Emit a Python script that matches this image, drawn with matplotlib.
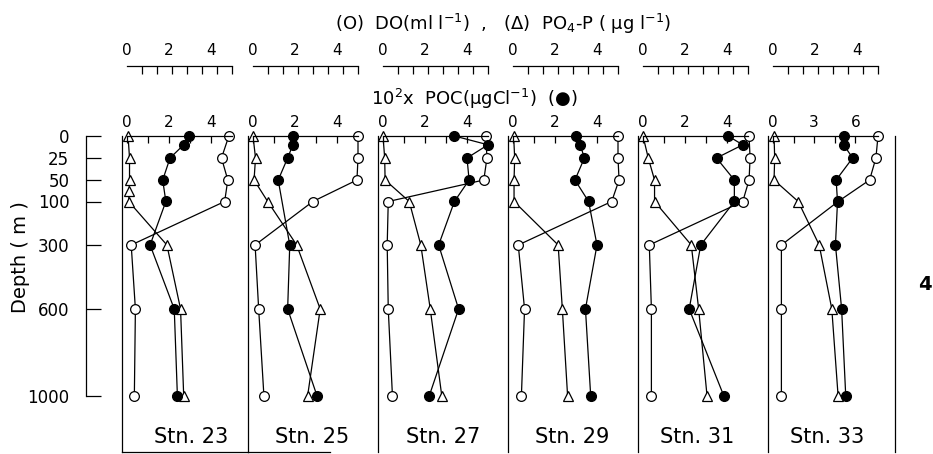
import numpy as np
import matplotlib
matplotlib.use('Agg')
import matplotlib.pyplot as plt
from matplotlib.ticker import FixedLocator, FixedFormatter

plt.rcParams['font.family'] = ['DejaVu Sans']
plt.rcParams['mathtext.default'] = 'regular'

# ---------------- data ----------------
stations = ['Stn. 23', 'Stn. 25', 'Stn. 27', 'Stn. 29', 'Stn. 31', 'Stn. 33']
depth_ticks = [0, 25, 50, 100, 300, 600, 1000]

do_depths = [0, 25, 50, 100, 300, 600, 1000]
po4_depths = [0, 25, 50, 100, 300, 600, 1000]
po4_depths_stn23 = [0, 25, 50, 75, 100, 300, 600, 1000]
poc_depths = [0, 10, 25, 50, 100, 300, 600, 1000]
poc_depths_stn25 = [0, 10, 25, 50, 300, 600, 1000]

do23 = [4.85, 4.5, 4.8, 4.65, 0.2, 0.4, 0.35]
po4_23 = [0.05, 0.12, 0.12, 0.1, 0.08, 1.9, 2.55, 2.7]
poc23 = [2.95, 2.7, 2.05, 1.7, 1.85, 1.1, 2.25, 2.4]

do25 = [5.0, 5.0, 4.95, 2.85, 0.1, 0.27, 0.52]
po4_25 = [0.0, 0.12, 0.05, 0.7, 2.08, 3.2, 2.6]
poc25 = [1.9, 1.9, 1.65, 1.2, 1.75, 1.65, 3.05]

do27 = [4.9, 4.95, 4.8, 0.25, 0.2, 0.25, 0.45]
po4_27 = [0.0, 0.08, 0.1, 1.25, 1.8, 2.25, 2.8]
poc27 = [3.4, 5.0, 4.0, 4.1, 3.4, 2.65, 3.6, 2.2]

do29 = [5.0, 5.0, 5.05, 4.7, 0.25, 0.55, 0.4]
po4_29 = [0.03, 0.08, 0.05, 0.05, 2.15, 2.35, 2.6]
poc29 = [3.0, 3.2, 3.4, 2.95, 3.6, 4.0, 3.45, 3.7]

do31 = [5.05, 5.1, 5.05, 4.75, 0.3, 0.4, 0.4]
po4_31 = [0.0, 0.25, 0.55, 0.55, 2.3, 2.65, 3.05]
poc31 = [4.05, 4.75, 3.5, 4.35, 4.35, 2.75, 2.2, 3.85]

do33 = [5.0, 4.9, 4.6, 3.1, 0.4, 0.4, 0.4]
po4_33 = [0.05, 0.08, 0.05, 1.2, 2.2, 2.8, 3.1]
poc33 = [5.15, 5.15, 5.8, 4.6, 4.7, 4.55, 5.0, 5.3]

do_all = [do23, do25, do27, do29, do31, do33]
po4_all = [po4_23, po4_25, po4_27, po4_29, po4_31, po4_33]
po4_dep_all = [po4_depths_stn23] + [po4_depths] * 5
poc_all = [poc23, poc25, poc27, poc29, poc31, poc33]
poc_dep_all = [poc_depths, poc_depths_stn25] + [poc_depths] * 4

upper_ticks = [0, 2, 4]
poc_ticks_major = [[0, 2, 4]] * 5 + [[0, 3, 6]]
poc_ticks_minor = [[1, 3]] * 5 + [[1.5, 4.5]]
poc_factor = [1, 1, 1, 1, 1, 1.53]

# ---------------- depth scale (piecewise, as drawn) ----------------
_dk = np.array([-100, 0, 25, 50, 100, 300, 600, 1000, 1500], float)
_pk = np.array([-88, 0, 22, 44, 65.5, 109, 173, 260, 368], float)


def fwd(d):
    return np.interp(d, _dk, _pk)


def inv(p):
    return np.interp(p, _pk, _dk)


W, H = 933, 454
fig = plt.figure(figsize=(W / 100, H / 100), dpi=100)


def fx(px):
    return px / W


def fy(py):
    return 1 - py / H


panel_lefts = [122, 248, 378, 508, 638, 768, 895]
label_frac = [0.55, 0.49, 0.5, 0.49, 0.455, 0.465]
top_px, bottom_px = 136, 452
unit_px = 21.0
zero_off = 5.0
y_bottom = inv(bottom_px - top_px)

lw = 0.9
ms_c = 7.0
ms_t = 6.5

for i in range(6):
    left, right = panel_lefts[i], panel_lefts[i + 1]
    w = right - left
    x0 = -zero_off / unit_px
    x1 = x0 + w / unit_px
    ax = fig.add_axes([fx(left), fy(bottom_px), w / W, (bottom_px - top_px) / H])
    ax.set_yscale('function', functions=(fwd, inv))
    ax.set_ylim(y_bottom, 0)
    ax.set_xlim(x0, x1)

    # POC twin axis (top scale of panel)
    f = poc_factor[i]
    axp = ax.twiny()
    axp.set_xlim(x0 * f, x1 * f)
    for s in ['left', 'right', 'bottom']:
        axp.spines[s].set_visible(False)
    axp.spines['top'].set_bounds(0, 5.0 * f)
    axp.spines['top'].set_linewidth(0.9)
    axp.xaxis.set_major_locator(FixedLocator(poc_ticks_major[i]))
    axp.xaxis.set_minor_locator(FixedLocator(poc_ticks_minor[i]))
    axp.tick_params(axis='x', which='both', direction='in', length=5, width=0.9,
                    top=True, labeltop=True, bottom=False, labelbottom=False,
                    labelsize=11, pad=4)
    axp.tick_params(axis='x', which='minor', labeltop=False)
    axp.tick_params(axis='y', left=False, right=False, labelleft=False, labelright=False)

    for s in ['top', 'right', 'bottom']:
        ax.spines[s].set_visible(False)
    if i == 5:
        ax.spines['right'].set_visible(True)
    if i in (0, 1):
        ax.spines['bottom'].set_visible(True)
        if i == 1:
            ax.spines['bottom'].set_bounds(x0, x0 + (330 - left) / unit_px)
    for s in ax.spines.values():
        s.set_linewidth(0.9)
    ax.tick_params(axis='both', which='both', left=False, labelleft=False,
                   bottom=False, labelbottom=False, top=False, labeltop=False,
                   right=False, labelright=False)

    # lines
    ax.plot(do_all[i], do_depths, '-', color='black', lw=lw, marker='o', ms=ms_c,
            mfc='white', mec='black', mew=0.9, zorder=4, clip_on=False)
    ax.plot(po4_all[i], po4_dep_all[i], '-', color='black', lw=lw, marker='^', ms=ms_t,
            mfc='white', mec='black', mew=0.9, zorder=3, clip_on=False)
    axp.plot(poc_all[i], poc_dep_all[i], '-', color='black', lw=lw, marker='o', ms=ms_c,
             mfc='black', mec='black', zorder=2, clip_on=False)

    ax.text(label_frac[i], 0.047, stations[i], transform=ax.transAxes, ha='center',
            va='center', fontsize=15)

    # upper scale (DO / PO4)
    sc = fig.add_axes([fx(left), fy(66) - 0.02, w / W, 0.02])
    sc.set_xlim(x0, x1)
    sc.set_ylim(0, 1)
    sc.patch.set_visible(False)
    for s in ['left', 'right', 'bottom']:
        sc.spines[s].set_visible(False)
    sc.spines['top'].set_bounds(0, 5.0)
    sc.spines['top'].set_linewidth(0.9)
    sc.xaxis.set_major_locator(FixedLocator(upper_ticks))
    sc.xaxis.set_minor_locator(FixedLocator(list(np.linspace(0, 5.0, 8))))
    sc.tick_params(axis='x', which='major', direction='in', length=0, top=True,
                   labeltop=True, bottom=False, labelbottom=False, labelsize=11, pad=6)
    sc.tick_params(axis='x', which='minor', direction='in', length=6, width=0.9,
                   top=True, bottom=False)
    sc.tick_params(left=False, labelleft=False)

# depth axis
dax = fig.add_axes([fx(86), fy(bottom_px), 0.02, (bottom_px - top_px) / H])
dax.set_yscale('function', functions=(fwd, inv))
dax.set_ylim(y_bottom, 0)
dax.patch.set_visible(False)
for s in ['top', 'right', 'bottom']:
    dax.spines[s].set_visible(False)
dax.spines['left'].set_bounds(0, 1000)
dax.spines['left'].set_linewidth(0.9)
dax.yaxis.set_major_locator(FixedLocator(depth_ticks))
dax.yaxis.set_major_formatter(FixedFormatter([str(d) for d in depth_ticks]))
dax.yaxis.set_minor_locator(FixedLocator([]))
dax.tick_params(axis='y', direction='in', length=11, width=0.9, labelsize=12, pad=12)
dax.tick_params(axis='x', bottom=False, labelbottom=False)

fig.text(fx(21), fy(257), 'Depth ( m )', rotation=90, ha='center', va='center', fontsize=14)

fig.text(fx(503), fy(24),
         '(O)  DO(ml l$^{-1}$)  ,   ($\\Delta$)  PO$_4$-P ( μg l$^{-1}$)',
         ha='center', va='center', fontsize=13)
fig.text(fx(474), fy(99), '10$^2$x  POC(μgCl$^{-1}$)  (●)', ha='center', va='center',
         fontsize=13)
fig.text(fx(925), fy(284), '4', ha='center', va='center', fontsize=14, fontweight='bold')

fig.savefig('out.png', dpi=100)
